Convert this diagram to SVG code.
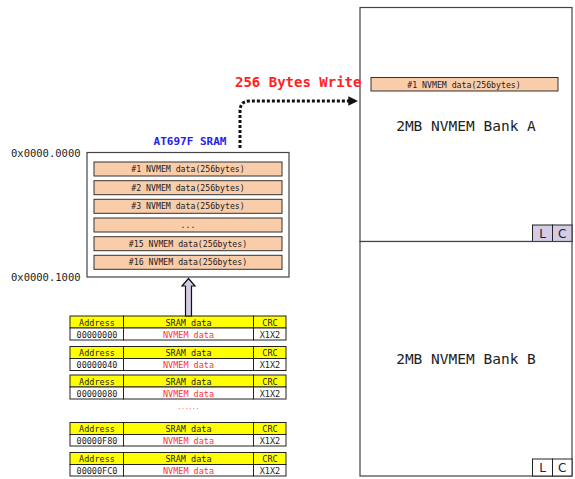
<svg xmlns="http://www.w3.org/2000/svg" width="575" height="479" viewBox="0 0 575 479">
<defs>
<style>
text{font-family:"DejaVu Sans Mono","Liberation Mono",monospace;}
.row{fill:#f9ccaa;stroke:#333;stroke-width:1;}
.rt{font-size:8.2px;fill:#222;text-anchor:middle;}
.box{fill:#fff;stroke:#444;stroke-width:1.2;}
.lbl{font-size:10.5px;fill:#222;}
.hd{fill:#ffff00;stroke:#222;stroke-width:1;}
.dc{fill:#fff;stroke:#222;stroke-width:1;}
.ht{font-size:8.5px;fill:#222;text-anchor:middle;}
.dt{font-size:8.5px;fill:#222;text-anchor:middle;}
.red{fill:#ff3333;}
.lc{fill:#d4cce4;stroke:#222;stroke-width:1;}
.lcw{fill:#fff;stroke:#222;stroke-width:1;}
.lct{font-family:"DejaVu Sans","Liberation Sans",sans-serif;font-size:12px;fill:#222;text-anchor:middle;}
.bank{font-size:14.5px;fill:#222;text-anchor:middle;}
</style>
<marker id="ah" viewBox="0 0 10 10" refX="8" refY="5" markerWidth="3.2" markerHeight="3.2" orient="auto">
<path d="M0,0 L10,5 L0,10 z" fill="#111"/>
</marker>
</defs>

<g id="bankA">
<rect x="360" y="7.5" width="212" height="234" class="box"/>
<rect x="371" y="77.5" width="187" height="13.5" class="row"/>
<text x="464" y="87.5" class="rt">#1 NVMEM data(256bytes)</text>
<text x="466" y="130.5" class="bank">2MB NVMEM Bank A</text>
<rect x="532.5" y="225" width="20" height="16.5" class="lc"/>
<rect x="552.5" y="225" width="19.5" height="16.5" class="lc"/>
<text x="542.5" y="238" class="lct">L</text>
<text x="562.3" y="238" class="lct">C</text>
</g>

<g id="bankB">
<rect x="360" y="241.5" width="212" height="234.5" class="box"/>
<text x="466" y="364" class="bank">2MB NVMEM Bank B</text>
<rect x="532.5" y="459" width="20" height="17" class="lcw"/>
<rect x="552.5" y="459" width="19.5" height="17" class="lcw"/>
<text x="542.5" y="472" class="lct">L</text>
<text x="562.3" y="472" class="lct">C</text>
</g>

<g id="sram">
<text x="190" y="144.5" style="font-size:11px;font-weight:bold;fill:#2222ee;text-anchor:middle;">AT697F SRAM</text>
<text x="11" y="157" class="lbl">0x0000.0000</text>
<text x="11" y="281" class="lbl">0x0000.1000</text>
<rect x="87" y="152.5" width="202" height="124.5" class="box"/>
<rect x="94" y="162" width="188" height="14" class="row"/>
<text x="188" y="172" class="rt">#1 NVMEM data(256bytes)</text>
<rect x="94" y="180.7" width="188" height="14" class="row"/>
<text x="188" y="190.7" class="rt">#2 NVMEM data(256bytes)</text>
<rect x="94" y="199.3" width="188" height="14" class="row"/>
<text x="188" y="209.3" class="rt">#3 NVMEM data(256bytes)</text>
<rect x="94" y="218" width="188" height="14" class="row"/>
<text x="188" y="228" class="rt">...</text>
<rect x="94" y="236.7" width="188" height="14" class="row"/>
<text x="188" y="246.7" class="rt">#15 NVMEM data(256bytes)</text>
<rect x="94" y="255.3" width="188" height="14" class="row"/>
<text x="188" y="265.3" class="rt">#16 NVMEM data(256bytes)</text>
</g>

<g id="table1">
<rect x="70" y="316" width="53.5" height="12" class="hd"/><rect x="123.5" y="316" width="130" height="12" class="hd"/><rect x="253.5" y="316" width="32.5" height="12" class="hd"/>
<rect x="70" y="328" width="53.5" height="12" class="dc"/><rect x="123.5" y="328" width="130" height="12" class="dc"/><rect x="253.5" y="328" width="32.5" height="12" class="dc"/>
<text x="97" y="325.5" class="ht">Address</text><text x="188.5" y="325.5" class="ht">SRAM data</text><text x="270" y="325.5" class="ht">CRC</text>
<text x="97" y="337.5" class="dt">00000000</text><text x="188.5" y="337.5" class="dt red">NVMEM data</text><text x="270" y="337.5" class="dt">X1X2</text>
</g>
<g id="table2">
<rect x="70" y="346.5" width="53.5" height="12" class="hd"/><rect x="123.5" y="346.5" width="130" height="12" class="hd"/><rect x="253.5" y="346.5" width="32.5" height="12" class="hd"/>
<rect x="70" y="358.5" width="53.5" height="12" class="dc"/><rect x="123.5" y="358.5" width="130" height="12" class="dc"/><rect x="253.5" y="358.5" width="32.5" height="12" class="dc"/>
<text x="97" y="356" class="ht">Address</text><text x="188.5" y="356" class="ht">SRAM data</text><text x="270" y="356" class="ht">CRC</text>
<text x="97" y="368" class="dt">00000040</text><text x="188.5" y="368" class="dt red">NVMEM data</text><text x="270" y="368" class="dt">X1X2</text>
</g>
<g id="table3">
<rect x="70" y="375" width="53.5" height="12" class="hd"/><rect x="123.5" y="375" width="130" height="12" class="hd"/><rect x="253.5" y="375" width="32.5" height="12" class="hd"/>
<rect x="70" y="387" width="53.5" height="12" class="dc"/><rect x="123.5" y="387" width="130" height="12" class="dc"/><rect x="253.5" y="387" width="32.5" height="12" class="dc"/>
<text x="97" y="384.5" class="ht">Address</text><text x="188.5" y="384.5" class="ht">SRAM data</text><text x="270" y="384.5" class="ht">CRC</text>
<text x="97" y="396.5" class="dt">00000080</text><text x="188.5" y="396.5" class="dt red">NVMEM data</text><text x="270" y="396.5" class="dt">X1X2</text>
</g>
<g id="dots">
<text x="188.5" y="409" style="font-size:6px;fill:#ff3333;text-anchor:middle;">......</text>
</g>
<g id="table4">
<rect x="70" y="422.5" width="53.5" height="12" class="hd"/><rect x="123.5" y="422.5" width="130" height="12" class="hd"/><rect x="253.5" y="422.5" width="32.5" height="12" class="hd"/>
<rect x="70" y="434.5" width="53.5" height="11.5" class="dc"/><rect x="123.5" y="434.5" width="130" height="11.5" class="dc"/><rect x="253.5" y="434.5" width="32.5" height="11.5" class="dc"/>
<text x="97" y="432" class="ht">Address</text><text x="188.5" y="432" class="ht">SRAM data</text><text x="270" y="432" class="ht">CRC</text>
<text x="97" y="443.5" class="dt">00000F80</text><text x="188.5" y="443.5" class="dt red">NVMEM data</text><text x="270" y="443.5" class="dt">X1X2</text>
</g>
<g id="table5">
<rect x="70" y="452.5" width="53.5" height="12" class="hd"/><rect x="123.5" y="452.5" width="130" height="12" class="hd"/><rect x="253.5" y="452.5" width="32.5" height="12" class="hd"/>
<rect x="70" y="464.5" width="53.5" height="11.5" class="dc"/><rect x="123.5" y="464.5" width="130" height="11.5" class="dc"/><rect x="253.5" y="464.5" width="32.5" height="11.5" class="dc"/>
<text x="97" y="462" class="ht">Address</text><text x="188.5" y="462" class="ht">SRAM data</text><text x="270" y="462" class="ht">CRC</text>
<text x="97" y="473.5" class="dt">00000FC0</text><text x="188.5" y="473.5" class="dt red">NVMEM data</text><text x="270" y="473.5" class="dt">X1X2</text>
</g>

<g id="connectors">
<path d="M240,148 L240,111 Q240,101 250,101 L356,101" fill="none" stroke="#111" stroke-width="3" stroke-dasharray="3,2" marker-end="url(#ah)"/>
<text x="235" y="87" style="font-size:14px;font-weight:bold;fill:#ff2222;">256 Bytes Write</text>
<path d="M185.5,316 L185.5,286 L182,286 L188.5,278.5 L195,286 L191.5,286 L191.5,316 Z" fill="#d4cce4" stroke="#111" stroke-width="1.2"/>
</g>
</svg>
